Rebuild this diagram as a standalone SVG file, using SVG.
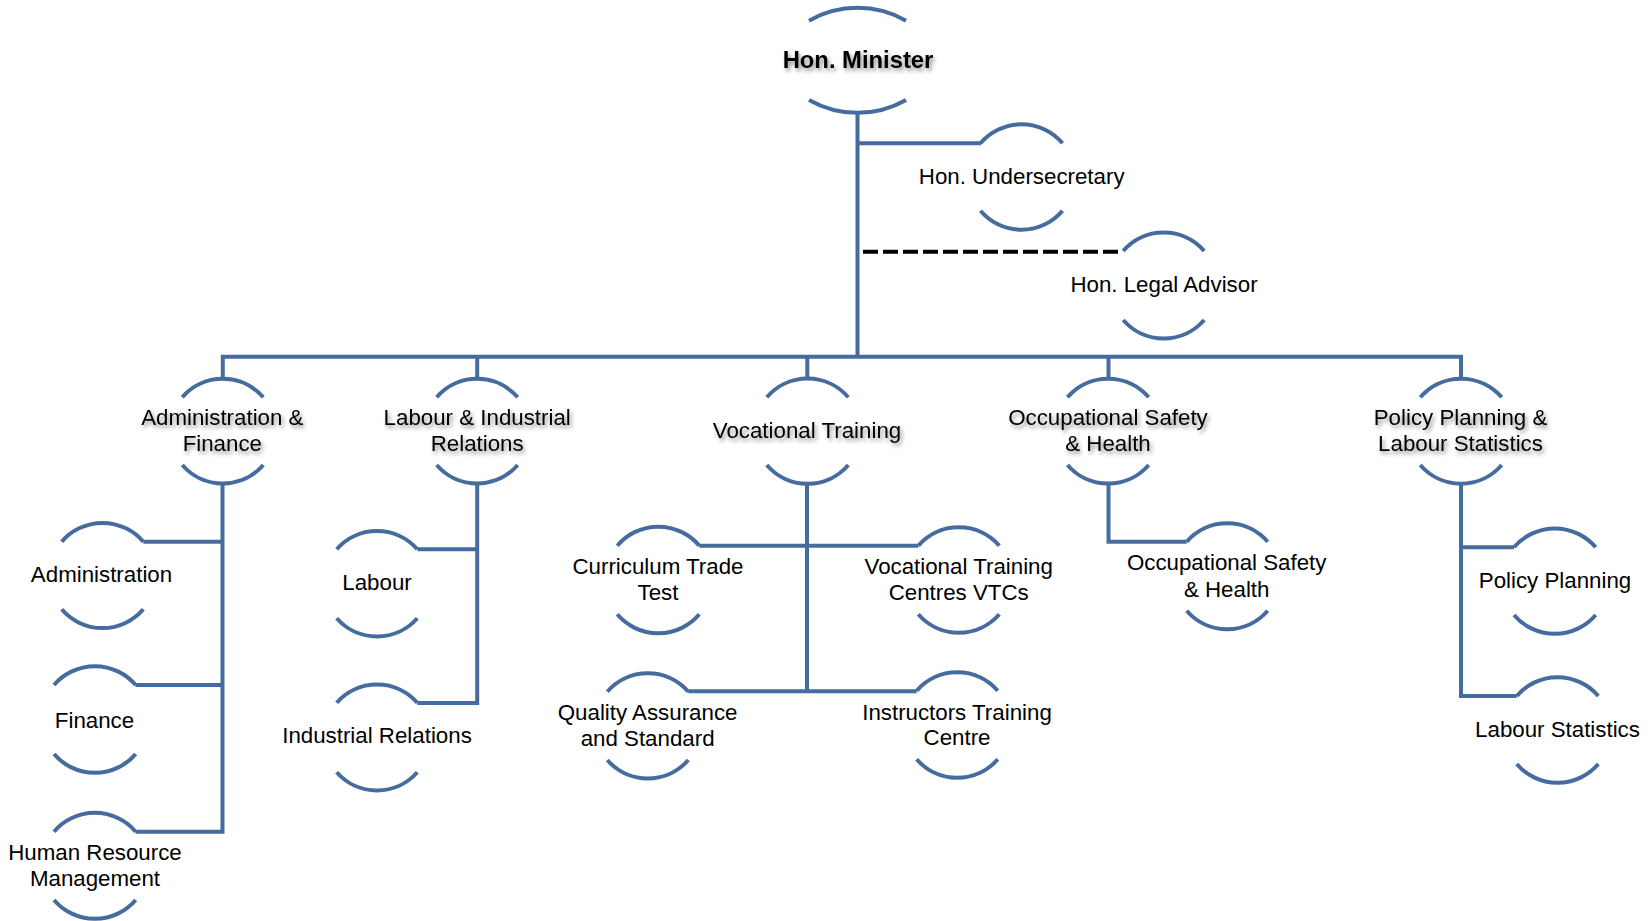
<svg xmlns="http://www.w3.org/2000/svg" width="1650" height="921" viewBox="0 0 1650 921">
<defs>
<style>
.arc{fill:none;stroke:#466c9f;stroke-width:4;stroke-linecap:butt}
.ln{fill:none;stroke:#466c9f;stroke-width:4;stroke-linejoin:miter;stroke-linecap:butt}
.dash{fill:none;stroke:#000;stroke-width:4;stroke-dasharray:15 5}
text{font-family:"Liberation Sans",Arial,sans-serif;font-size:22.3px;fill:#000;text-anchor:middle}
.b{font-weight:bold;font-size:23.8px}
.sh{filter:url(#shadow)}
</style>
<filter id="shadow" x="-20%" y="-40%" width="140%" height="180%">
<feGaussianBlur in="SourceAlpha" stdDeviation="2"/>
<feOffset dx="2" dy="3" result="o"/>
<feComponentTransfer><feFuncA type="linear" slope="0.45"/></feComponentTransfer>
<feMerge><feMergeNode/><feMergeNode in="SourceGraphic"/></feMerge>
</filter>
</defs>
<rect width="1650" height="921" fill="#fff"/>

<g id="connectors">
<path class="ln" d="M857.5,112 V356.7"/>
<path class="ln" d="M857.5,143.3 H981"/>
<path class="dash" d="M863,251.7 H1123"/>
<path class="ln" d="M222.8,379 V356.7 H1461 V379"/>
<path class="ln" d="M477.2,356.7 V379"/>
<path class="ln" d="M807.3,356.7 V379"/>
<path class="ln" d="M1108.5,356.7 V379"/>
<path class="ln" d="M222.5,484 V831.7 H135.5"/>
<path class="ln" d="M222.5,541.7 H143.3"/>
<path class="ln" d="M222.5,685 H135.5"/>
<path class="ln" d="M477.2,484 V703 H417.3"/>
<path class="ln" d="M477.2,549.3 H417.5"/>
<path class="ln" d="M807,484 V691.2"/>
<path class="ln" d="M699.3,545.7 H918.3"/>
<path class="ln" d="M688.3,691.2 H916.7"/>
<path class="ln" d="M1108.5,484 V541.7 H1186.7"/>
<path class="ln" d="M1461,484 V696 H1516.7"/>
<path class="ln" d="M1461,547.3 H1514"/>
</g>

<g id="n-minister">
<path class="arc" d="M809,20.7 A98 98 0 0 1 906,20.7"/>
<path class="arc" d="M809,100 A98 98 0 0 0 906,100"/>
<text class="b sh" x="858" y="68.3">Hon. Minister</text>
</g>
<g id="n-undersecretary">
<path class="arc" d="M980.5,143.3 A53.7 53.7 0 0 1 1062.5,143.3"/>
<path class="arc" d="M980.5,210.7 A53.7 53.7 0 0 0 1062.5,210.7"/>
<text x="1021.7" y="184.3">Hon. Undersecretary</text>
</g>
<g id="n-legal">
<path class="arc" d="M1123.2,251 A53.7 53.7 0 0 1 1204.2,251"/>
<path class="arc" d="M1123.2,320 A53.7 53.7 0 0 0 1204.2,320"/>
<text x="1164" y="291.7">Hon. Legal Advisor</text>
</g>

<g id="n-admin-finance">
<path class="arc" d="M182.3,397.3 A53.7 53.7 0 0 1 263.3,397.3"/>
<path class="arc" d="M182.3,465 A53.7 53.7 0 0 0 263.3,465"/>
<text class="sh" x="222.3" y="425">Administration &amp;</text>
<text class="sh" x="222.3" y="451">Finance</text>
</g>
<g id="n-labour-ir">
<path class="arc" d="M436.7,397.3 A53.7 53.7 0 0 1 517.7,397.3"/>
<path class="arc" d="M436.7,465 A53.7 53.7 0 0 0 517.7,465"/>
<text class="sh" x="477.2" y="425">Labour &amp; Industrial</text>
<text class="sh" x="477.2" y="451">Relations</text>
</g>
<g id="n-vocational">
<path class="arc" d="M766.8,397.3 A53.7 53.7 0 0 1 848.3,397.3"/>
<path class="arc" d="M766.8,465 A53.7 53.7 0 0 0 848.3,465"/>
<text class="sh" x="807" y="438.3">Vocational Training</text>
</g>
<g id="n-osh">
<path class="arc" d="M1067.5,397.3 A53.7 53.7 0 0 1 1148.7,397.3"/>
<path class="arc" d="M1067.5,465 A53.7 53.7 0 0 0 1148.7,465"/>
<text class="sh" x="1108" y="425">Occupational Safety</text>
<text class="sh" x="1108" y="451">&amp; Health</text>
</g>
<g id="n-policy-stats">
<path class="arc" d="M1420.3,397.3 A53.7 53.7 0 0 1 1501.7,397.3"/>
<path class="arc" d="M1420.3,465 A53.7 53.7 0 0 0 1501.7,465"/>
<text class="sh" x="1460.5" y="425">Policy Planning &amp;</text>
<text class="sh" x="1460.5" y="451">Labour Statistics</text>
</g>

<g id="n-administration">
<path class="arc" d="M61.7,541.7 A53.7 53.7 0 0 1 143.3,541.7"/>
<path class="arc" d="M61.7,609.3 A53.7 53.7 0 0 0 143.3,609.3"/>
<text x="101.5" y="581.7">Administration</text>
</g>
<g id="n-finance">
<path class="arc" d="M54,685 A53.7 53.7 0 0 1 135.7,685"/>
<path class="arc" d="M54,754 A53.7 53.7 0 0 0 135.7,754"/>
<text x="94.5" y="727.7">Finance</text>
</g>
<g id="n-hrm">
<path class="arc" d="M54,831.7 A53.7 53.7 0 0 1 135.7,831.7"/>
<path class="arc" d="M54,900 A53.7 53.7 0 0 0 135.7,900"/>
<text x="95" y="860">Human Resource</text>
<text x="95" y="885.7">Management</text>
</g>
<g id="n-labour">
<path class="arc" d="M336.7,549.3 A53.7 53.7 0 0 1 417.3,549.3"/>
<path class="arc" d="M336.7,618.3 A53.7 53.7 0 0 0 417.3,618.3"/>
<text x="377" y="590">Labour</text>
</g>
<g id="n-industrial">
<path class="arc" d="M336.7,702.7 A53.7 53.7 0 0 1 417.3,702.7"/>
<path class="arc" d="M336.7,772.3 A53.7 53.7 0 0 0 417.3,772.3"/>
<text x="377" y="743.3">Industrial Relations</text>
</g>
<g id="n-curriculum">
<path class="arc" d="M617.3,545.7 A53.7 53.7 0 0 1 699.3,545.7"/>
<path class="arc" d="M617.3,614.3 A53.7 53.7 0 0 0 699.3,614.3"/>
<text x="658" y="574">Curriculum Trade</text>
<text x="658" y="600">Test</text>
</g>
<g id="n-vtc">
<path class="arc" d="M918.3,545.7 A53.7 53.7 0 0 1 999.3,545.7"/>
<path class="arc" d="M918.3,614.3 A53.7 53.7 0 0 0 999.3,614.3"/>
<text x="958.7" y="574">Vocational Training</text>
<text x="958.7" y="600">Centres VTCs</text>
</g>
<g id="n-quality">
<path class="arc" d="M607.3,691.7 A53.7 53.7 0 0 1 688.3,691.7"/>
<path class="arc" d="M607.3,760 A53.7 53.7 0 0 0 688.3,760"/>
<text x="647.6" y="720">Quality Assurance</text>
<text x="647.6" y="745.7">and Standard</text>
</g>
<g id="n-instructors">
<path class="arc" d="M916.7,690.7 A53.7 53.7 0 0 1 997.7,690.7"/>
<path class="arc" d="M916.7,759.3 A53.7 53.7 0 0 0 997.7,759.3"/>
<text x="957" y="720">Instructors Training</text>
<text x="957" y="745">Centre</text>
</g>
<g id="n-osh-child">
<path class="arc" d="M1186.7,541.7 A53.7 53.7 0 0 1 1267.7,541.7"/>
<path class="arc" d="M1186.7,610.7 A53.7 53.7 0 0 0 1267.7,610.7"/>
<text x="1226.7" y="570">Occupational Safety</text>
<text x="1226.7" y="596.7">&amp; Health</text>
</g>
<g id="n-policy">
<path class="arc" d="M1514,547.3 A53.7 53.7 0 0 1 1595.7,547.3"/>
<path class="arc" d="M1514,615 A53.7 53.7 0 0 0 1595.7,615"/>
<text x="1555" y="588.3">Policy Planning</text>
</g>
<g id="n-stats">
<path class="arc" d="M1516.7,696 A53.7 53.7 0 0 1 1598.3,696"/>
<path class="arc" d="M1516.7,764 A53.7 53.7 0 0 0 1598.3,764"/>
<text x="1557.5" y="736.7">Labour Statistics</text>
</g>
</svg>
